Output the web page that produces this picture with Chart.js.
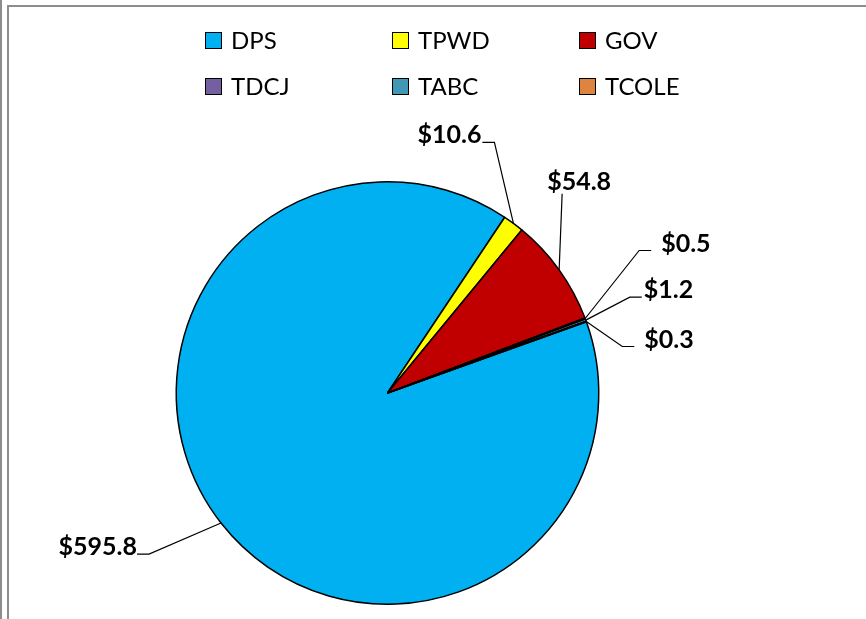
<!DOCTYPE html>
<html>
<head>
<meta charset="utf-8">
<script src="https://cdn.jsdelivr.net/npm/chart.js@4/dist/chart.umd.min.js"></script>
<style>
  html, body { margin: 0; padding: 0; background: #fff; }
  body { width: 866px; height: 619px; position: relative; overflow: hidden; font-family: Lato, "Open Sans", sans-serif; }
  #wrap { position: absolute; left: 0; top: 0; width: 866px; height: 619px; }
  #frameOuter { position: absolute; left: 0; top: 0; width: 0; height: 619px; border-left: 2px solid #8d8d8d; }
  #frame { position: absolute; left: 7px; top: 5px; width: 870px; height: 640px; border-left: 2px solid #8d8d8d; border-top: 2px solid #8d8d8d; }
  #legend { position: absolute; left: 0; top: 0; width: 866px; height: 110px; }
  .item { position: absolute; display: flex; align-items: center; height: 24px; font-size: 24px; line-height: 24px; color: #000; white-space: nowrap; }
  .box { width: 17px; height: 17px; border: 1px solid #000; margin-right: 9px; box-sizing: border-box; flex: none; }
</style>
</head>
<body>
<div id="frameOuter"></div>
<div id="frame"></div>
<div id="wrap"><canvas id="c" width="866" height="619"></canvas></div>
<div id="legend"></div>
<script>
// ---- data ----
const categories = ['DPS', 'TPWD', 'GOV', 'TDCJ', 'TABC', 'TCOLE'];
const values = [595.8, 10.6, 54.8, 0.5, 1.2, 0.3];
const valueLabels = ['$595.8', '$10.6', '$54.8', '$0.5', '$1.2', '$0.3'];
const colors = ['#00B0F0', '#FFFF00', '#C00000', '#7460A0', '#4198B5', '#DC8440'];

// ---- label placement (leader-line attach point relative to slice edge midpoint) ----
const labelPlacement = [
  { dx: -84, dy: 31, side: 'right', gap: 0 },
  { dx: -31, dy: -81, side: 'right', gap: 1 },
  { dx: 3, dy: -76, side: 'bottom' },
  { dx: 66, dy: -68, side: 'left', gap: 10 },
  { dx: 56, dy: -23, side: 'left', gap: 2 },
  { dx: 48, dy: 25, side: 'left', gap: 10 }
];

// ---- legend (HTML) ----
const legendCols = [205, 392, 579];
const legendRows = [28, 74];
const legendEl = document.getElementById('legend');
categories.forEach((name, i) => {
  const d = document.createElement('div');
  d.className = 'item';
  d.style.left = legendCols[i % 3] + 'px';
  d.style.top = legendRows[Math.floor(i / 3)] + 'px';
  const b = document.createElement('div');
  b.className = 'box';
  b.style.background = colors[i];
  const t = document.createElement('span');
  t.textContent = name;
  d.appendChild(b); d.appendChild(t);
  legendEl.appendChild(d);
});

// ---- data label plugin ----
const pieLabels = {
  id: 'pieLabels',
  afterDatasetsDraw(chart) {
    const ctx = chart.ctx;
    const meta = chart.getDatasetMeta(0);
    ctx.save();
    ctx.font = 'bold 25px Lato, "Open Sans", sans-serif';
    ctx.fillStyle = '#000';
    ctx.strokeStyle = '#000';
    ctx.lineWidth = 1.2;
    meta.data.forEach((arc, i) => {
      const p = arc.getProps(['x', 'y', 'startAngle', 'endAngle', 'outerRadius'], true);
      const mid = (p.startAngle + p.endAngle) / 2;
      const ax = p.x + Math.cos(mid) * p.outerRadius;
      const ay = p.y + Math.sin(mid) * p.outerRadius;
      const pl = labelPlacement[i];
      const tx = ax + pl.dx, ty = ay + pl.dy;
      ctx.beginPath();
      if (pl.side === 'bottom') {
        ctx.moveTo(tx, ty);
        ctx.lineTo(ax, ay);
        ctx.stroke();
        ctx.textAlign = 'left';
        ctx.textBaseline = 'middle';
        ctx.fillText(valueLabels[i], tx - 15, ty - 12);
      } else {
        const ex = pl.side === 'left' ? tx - 12 : tx + 12;
        ctx.moveTo(tx, ty);
        ctx.lineTo(ex, ty);
        ctx.lineTo(ax, ay);
        ctx.stroke();
        ctx.textBaseline = 'middle';
        if (pl.side === 'left') {
          ctx.textAlign = 'left';
          ctx.fillText(valueLabels[i], tx + pl.gap, ty - 7);
        } else {
          ctx.textAlign = 'right';
          ctx.fillText(valueLabels[i], tx - pl.gap, ty - 7);
        }
      }
    });
    ctx.restore();
  }
};

new Chart(document.getElementById('c'), {
  type: 'pie',
  data: {
    labels: categories,
    datasets: [{
      data: values,
      backgroundColor: colors,
      borderColor: '#000',
      borderWidth: 1.5
    }]
  },
  options: {
    responsive: false,
    animation: false,
    rotation: 70.3,
    layout: { padding: { top: 181, bottom: 14, left: 0, right: 91 } },
    plugins: {
      legend: { display: false },
      tooltip: { enabled: false }
    }
  },
  plugins: [pieLabels]
});
</script>
</body>
</html>
